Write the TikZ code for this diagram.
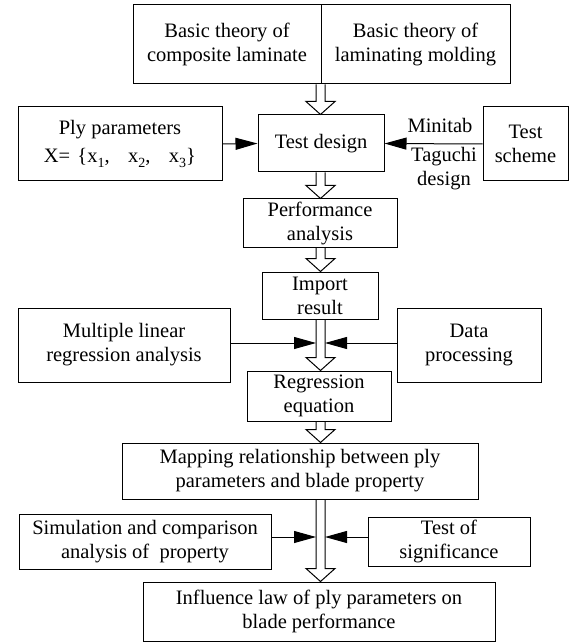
\documentclass[tikz,border=0pt]{standalone}
\usepackage{fontspec}
\setmainfont{Liberation Serif}
\usetikzlibrary{arrows.meta,calc}
\newcommand\subs[1]{\raisebox{-0.22em}{\fontsize{14}{14}\selectfont #1}}
\begin{document}
\begin{tikzpicture}[x=1pt,y=-1pt,
  box/.style={draw, line width=1pt, inner sep=0pt, align=center, font=\fontsize{20.5}{24}\selectfont},
  lbl/.style={inner sep=0pt, align=center, font=\fontsize{20.5}{24}\selectfont},
  hollow/.style={draw, line width=1pt, line join=miter},
  sidearr/.style={draw, line width=1pt, -{Triangle[length=22pt,width=12pt]}}]
\useasboundingbox (0,0) rectangle (579,644);
\coordinate (ax) at (320.5,0);
\newcommand\hollowarrow[2]{%
  \path[hollow] let \p1=(#1.south -| ax), \p2=(#2.north -| ax) in
  (\x1-4.5pt,\y1) -- (\x1-4.5pt,\y2+13pt) -- (\x1-14.5pt,\y2+13pt) -- (\x2,\y2)
  -- (\x1+14.5pt,\y2+13pt) -- (\x1+4.5pt,\y2+13pt) -- (\x1+4.5pt,\y1);}
% boxes
\node[box, minimum width=188pt, minimum height=79pt] (topL) at (227,44.5) {Basic theory of\\composite laminate};
\node[box, minimum width=189pt, minimum height=79pt] (topR) at (415.5,44.5) {Basic theory of\\laminating molding};
\node[box, minimum width=204pt, minimum height=74pt] (ply) at (120,144) {Ply parameters\\[4pt]X=\hspace{0.35em}\{x\subs{1},\hspace{0.9em}x\subs{2},\hspace{0.9em}x\subs{3}\}};
\node[box, minimum width=126pt, minimum height=57pt] (td) at (321,143.5) {Test design};
\node[box, minimum width=85pt, minimum height=74pt] (ts) at (525.5,144) {Test\\scheme};
\node[lbl] (mini) at (440,125) {Minitab};
\node[lbl] (tag) at (444,169) {Taguchi\\design};
\node[box, minimum width=154pt, minimum height=48pt] (perf) at (320,223) {Performance\\analysis};
\node[box, minimum width=116pt, minimum height=47pt] (imp) at (320,295.5) {Import\\result};
\node[box, minimum width=212pt, minimum height=74pt] (mlr) at (124,345) {Multiple linear\\regression analysis};
\node[box, minimum width=144pt, minimum height=74pt] (dp) at (469,345) {Data\\processing};
\node[box, minimum width=144pt, minimum height=50pt] (reg) at (319,396) {Regression\\equation};
\node[box, minimum width=356pt, minimum height=56pt] (map) at (300,471) {Mapping relationship between ply\\parameters and blade property};
\node[box, minimum width=252pt, minimum height=55pt] (sim) at (145,541.5) {Simulation and comparison\\analysis of\ \ property};
\node[box, minimum width=162pt, minimum height=49pt] (sig) at (449,541.5) {Test of\\significance};
\node[box, minimum width=352pt, minimum height=59pt] (inf) at (319,611.5) {Influence law of ply parameters on\\blade performance};
% hollow arrows
\hollowarrow{topL}{td}
\hollowarrow{td}{perf}
\hollowarrow{perf}{imp}
\hollowarrow{imp}{reg}
\hollowarrow{reg}{map}
\hollowarrow{map}{inf}
% side arrows
\coordinate (m1) at (316,343);
\coordinate (m2) at (325,343);
\coordinate (s1) at (316,537);
\coordinate (s2) at (325,537);
\draw[sidearr] (ply.east) -- (td.west);
\draw[sidearr] (ts.west) -- (td.east);
\draw[sidearr] (mlr.east |- m1) -- (m1);
\draw[sidearr] (dp.west |- m2) -- (m2);
\draw[sidearr] (sim.east |- s1) -- (s1);
\draw[sidearr] (sig.west |- s2) -- (s2);
\end{tikzpicture}
\end{document}
